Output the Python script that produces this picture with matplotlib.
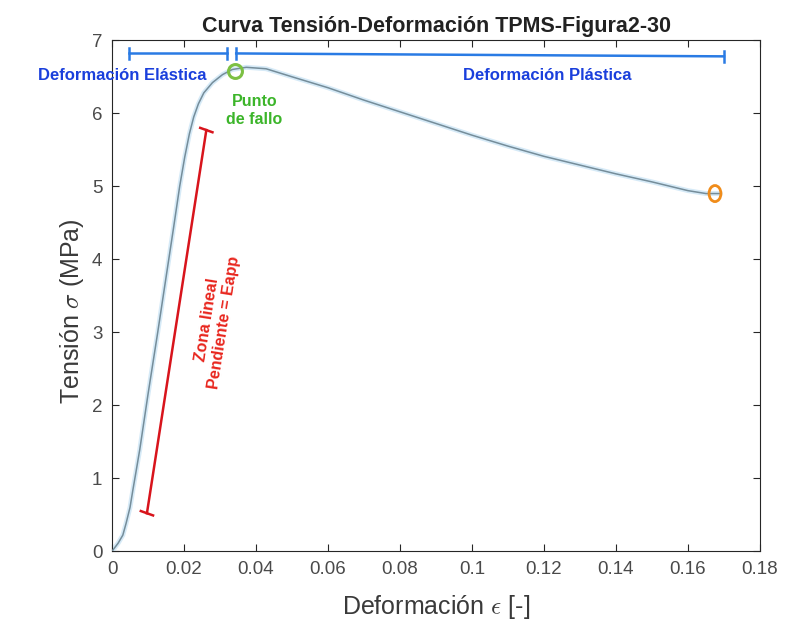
import matplotlib
matplotlib.use('Agg')
import matplotlib.pyplot as plt
from matplotlib.patches import Ellipse

# Curva
deformacion = [0, 0.0017, 0.003, 0.0039, 0.005, 0.0058, 0.0066, 0.0077, 0.0100, 0.0127,
               0.0150, 0.0170, 0.0188, 0.0202, 0.0215, 0.0227, 0.0240, 0.0255, 0.0279, 0.0307,
               0.0334, 0.0373, 0.0428, 0.05, 0.06, 0.07, 0.08, 0.09, 0.10, 0.11, 0.12,
               0.13, 0.14, 0.15, 0.16, 0.165, 0.169]
tension = [0, 0.11, 0.22, 0.38, 0.60, 0.84, 1.07, 1.39, 2.15, 3.00,
           3.75, 4.40, 5.00, 5.40, 5.72, 5.95, 6.13, 6.28, 6.42, 6.53,
           6.60, 6.63, 6.61, 6.50, 6.35, 6.18, 6.02, 5.86, 5.70, 5.55, 5.41,
           5.29, 5.17, 5.06, 4.94, 4.90, 4.90]

# Anotaciones
punto_fallo = (0.0343, 6.58)
punto_final = (0.1675, 4.90)
zona_lineal_x = [0.0097, 0.0262]
zona_lineal_y = [0.52, 5.77]
elastica_x = [0.0047, 0.0320]
elastica_y = [6.82, 6.82]
plastica_x = [0.0345, 0.1700]
plastica_y = [6.82, 6.78]

xticks = [0, 0.02, 0.04, 0.06, 0.08, 0.1, 0.12, 0.14, 0.16, 0.18]
xticklabels = ['0', '0.02', '0.04', '0.06', '0.08', '0.1', '0.12', '0.14', '0.16', '0.18']
yticks = [0, 1, 2, 3, 4, 5, 6, 7]

plt.rcParams['font.family'] = ['Liberation Sans', 'DejaVu Sans']
plt.rcParams['mathtext.fontset'] = 'cm'

fig = plt.figure(figsize=(7.9, 6.2), dpi=100)
ax = fig.add_axes([0.1418, 0.111, 0.8202, 0.824])

# curva con un halo azul claro
ax.plot(deformacion, tension, color='#d6eaf7', lw=3.5, solid_capstyle='round',
        solid_joinstyle='round', zorder=2)
ax.plot(deformacion, tension, color='#758d9a', lw=1.1, solid_joinstyle='round', zorder=3)

# zona lineal
ax.plot(zona_lineal_x, zona_lineal_y, color='#d8141c', lw=1.8, zorder=4)
for x, y in zip(zona_lineal_x, zona_lineal_y):
    ax.plot([x - 0.0017, x + 0.0017], [y + 0.03, y - 0.03], color='#d8141c', lw=1.8, zorder=4)
ax.text(0.0287, 3.15, 'Zona lineal\nPendiente = Eapp', color='#e8261e', fontsize=11.5,
        fontweight='bold', rotation=81, ha='center', va='center', rotation_mode='anchor',
        linespacing=1.2)

# corchetes elástico / plástico
azul = '#2a7be4'
ax.plot(elastica_x, elastica_y, color=azul, lw=1.8)
ax.plot(plastica_x, plastica_y, color=azul, lw=1.8)
for xs, ys in [(elastica_x, elastica_y), (plastica_x, plastica_y)]:
    for x, y in zip(xs, ys):
        ax.plot([x, x], [y - 0.08, y + 0.08], color=azul, lw=1.8)
ax.text(0.0028, 6.52, 'Deformación Elástica', color='#1a3fdc', fontsize=12,
        fontweight='bold', ha='center', va='center')
ax.text(0.121, 6.52, 'Deformación Plástica', color='#1a3fdc', fontsize=12,
        fontweight='bold', ha='center', va='center')

# punto de fallo y punto final
ax.plot(*punto_fallo, marker='o', ms=10, mfc='none', mec='#7cc043', mew=2.2, zorder=5)
ax.text(0.0395, 6.04, 'Punto\nde fallo', color='#3cb52a', fontsize=11.5, fontweight='bold',
        ha='center', va='center', linespacing=1.3)
ax.add_patch(Ellipse(punto_final, 0.0033, 0.22, fill=False, ec='#f08c1a', lw=2, zorder=5))

ax.set_xlim(0, 0.18)
ax.set_ylim(0, 7)
ax.set_xticks(xticks)
ax.set_xticklabels(xticklabels)
ax.set_yticks(yticks)
ax.tick_params(direction='in', top=True, right=True, length=5, labelsize=13.5,
               colors='#262626', labelcolor='#4a4a4a', pad=7)
for s in ax.spines.values():
    s.set_color('#262626')
    s.set_linewidth(0.8)

ax.set_xlabel(r'Deformación $\epsilon$ [-]', fontsize=18, color='#3a3a3a', labelpad=11)
ax.set_ylabel(r'Tensión $\sigma$ (MPa)', fontsize=18, color='#3a3a3a')
ax.yaxis.set_label_coords(-0.04, 0.47)
ax.set_title('Curva Tensión-Deformación TPMS-Figura2-30', fontsize=15.5, fontweight='bold',
             color='#222222', pad=6)

fig.savefig('out.png', dpi=100)
